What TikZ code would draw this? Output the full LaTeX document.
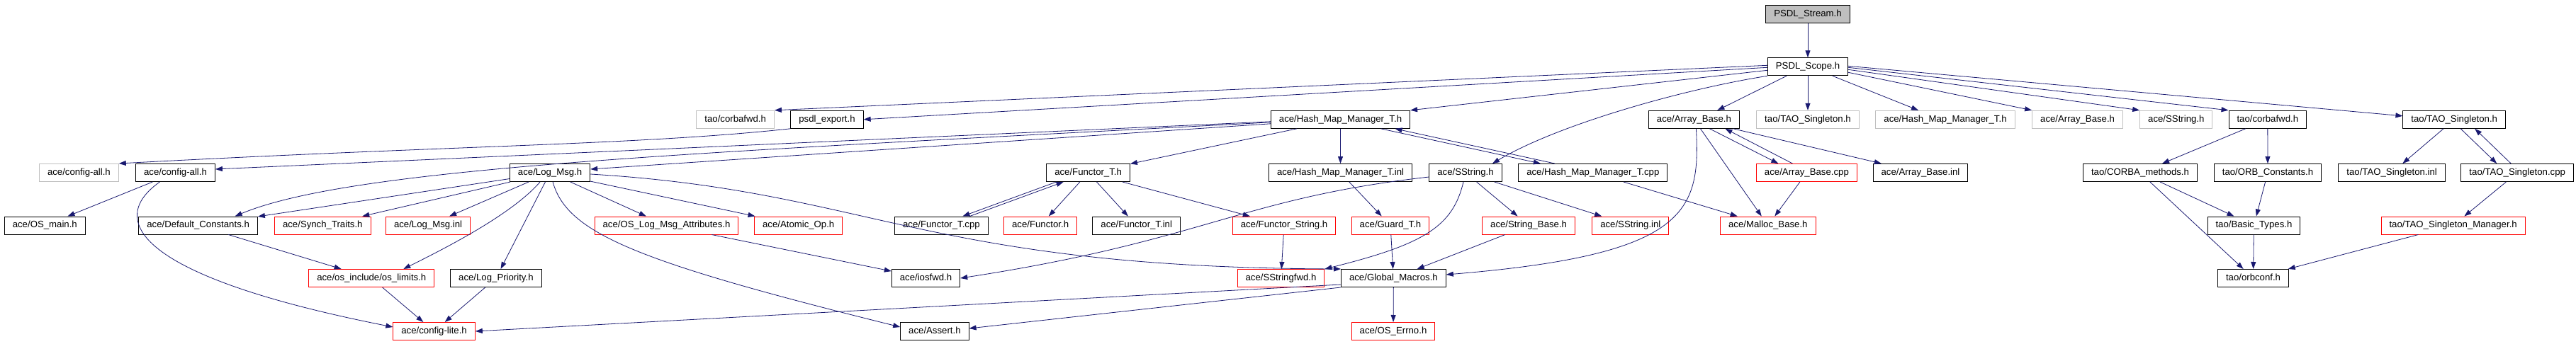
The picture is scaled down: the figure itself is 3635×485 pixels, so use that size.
\documentclass[tikz,border=0pt]{standalone}
\usepackage{fontspec}
\setmainfont{Liberation Sans}
\usetikzlibrary{arrows.meta}
\definecolor{edgeblue}{RGB}{25,25,112}
\definecolor{boxgray}{RGB}{191,191,191}

\begin{document}
\begin{tikzpicture}[x=1pt,y=-1pt,
  hdr/.style={draw=black,line width=1pt,minimum height=25pt,inner xsep=11.5pt,inner ysep=0pt,
    text height=9.5pt,text depth=2.8pt,font=\fontsize{13.2}{15}\selectfont},
  hdrred/.style={hdr,draw=red},
  hdrgray/.style={hdr,draw=boxgray},
  hdrroot/.style={hdr,fill=boxgray},
  dep/.style={draw=edgeblue,line width=0.8pt,-{Triangle[length=10pt,width=7pt]}}]
\useasboundingbox (0,0) rectangle (3635,485);

\node[hdrroot] (stream) at (2551,19.8) {PSDL\_Stream.h};
\node[hdr] (scope) at (2551,94.3) {PSDL\_Scope.h};

\node[hdrgray] (tcfwdg) at (1037.7,168.8) {tao/corbafwd.h};
\node[hdr] (psdlexp) at (1167,168.8) {psdl\_export.h};
\node[hdr] (hmmh) at (1891.5,168.8) {ace/Hash\_Map\_Manager\_T.h};
\node[hdr] (abh) at (2390.4,168.8) {ace/Array\_Base.h};
\node[hdrgray] (tsg) at (2551,168.8) {tao/TAO\_Singleton.h};
\node[hdrgray] (hmmg) at (2745,168.8) {ace/Hash\_Map\_Manager\_T.h};
\node[hdrgray] (abg) at (2931.6,168.8) {ace/Array\_Base.h};
\node[hdrgray] (ssg) at (3070.8,168.8) {ace/SString.h};
\node[hdr] (tcfwd) at (3199.8,168.8) {tao/corbafwd.h};
\node[hdr] (tsh) at (3463.2,168.8) {tao/TAO\_Singleton.h};

\node[hdrgray] (cfgallg) at (111.4,244) {ace/config-all.h};
\node[hdr] (cfgall) at (247.5,244) {ace/config-all.h};
\node[hdr] (logmsg) at (776.1,244) {ace/Log\_Msg.h};
\node[hdr] (functh) at (1535.6,244) {ace/Functor\_T.h};
\node[hdr] (hmminl) at (1891.5,244) {ace/Hash\_Map\_Manager\_T.inl};
\node[hdr] (ssh) at (2068,244) {ace/SString.h};
\node[hdr] (hmmcpp) at (2247.8,244) {ace/Hash\_Map\_Manager\_T.cpp};
\node[hdrred] (abcpp) at (2549.4,244) {ace/Array\_Base.cpp};
\node[hdr] (abinl) at (2710,244) {ace/Array\_Base.inl};
\node[hdr] (corbam) at (3020,244) {tao/CORBA\_methods.h};
\node[hdr] (orbc) at (3200,244) {tao/ORB\_Constants.h};
\node[hdr] (tsinl) at (3375.1,244) {tao/TAO\_Singleton.inl};
\node[hdr] (tscpp) at (3552.2,244) {tao/TAO\_Singleton.cpp};

\node[hdr] (osmain) at (63.3,318.5) {ace/OS\_main.h};
\node[hdr] (defc) at (279.6,318.5) {ace/Default\_Constants.h};
\node[hdrred] (synch) at (455.3,318.5) {ace/Synch\_Traits.h};
\node[hdrred] (logmsginl) at (604.1,318.5) {ace/Log\_Msg.inl};
\node[hdrred] (oslma) at (940.5,318.5) {ace/OS\_Log\_Msg\_Attributes.h};
\node[hdrred] (atomic) at (1126.7,318.5) {ace/Atomic\_Op.h};
\node[hdr] (functcpp) at (1328.4,318.5) {ace/Functor\_T.cpp};
\node[hdrred] (functor) at (1468.1,318.5) {ace/Functor.h};
\node[hdr] (functinl) at (1603.7,318.5) {ace/Functor\_T.inl};
\node[hdrred] (functstr) at (1812,318.5) {ace/Functor\_String.h};
\node[hdrred] (guard) at (1962,318.5) {ace/Guard\_T.h};
\node[hdrred] (strbase) at (2157.1,318.5) {ace/String\_Base.h};
\node[hdrred] (ssinl) at (2300.8,318.5) {ace/SString.inl};
\node[hdrred] (malloc) at (2494.8,318.5) {ace/Malloc\_Base.h};
\node[hdr] (basic) at (3180.4,318.5) {tao/Basic\_Types.h};
\node[hdrred] (tsmgr) at (3461.6,318.5) {tao/TAO\_Singleton\_Manager.h};

\node[hdrred] (oslimits) at (524.3,393) {ace/os\_include/os\_limits.h};
\node[hdr] (logprio) at (699.9,393) {ace/Log\_Priority.h};
\node[hdr] (iosfwd) at (1306.5,393) {ace/iosfwd.h};
\node[hdrred] (ssfwd) at (1807.5,393) {ace/SStringfwd.h};
\node[hdr] (globm) at (1966.4,393) {ace/Global\_Macros.h};
\node[hdr] (orbconf) at (3179.5,393) {tao/orbconf.h};

\node[hdrred] (cfglite) at (612.6,468) {ace/config-lite.h};
\node[hdr] (assert) at (1318.9,468) {ace/Assert.h};
\node[hdrred] (errno) at (1966,468) {ace/OS\_Errno.h};

\draw[dep] (stream) -- (scope);
\draw[dep] ([yshift=2pt]scope.west) -- (tcfwdg.north east);
\draw[dep] ([yshift=-1pt]scope.west) -- (psdlexp.east);
\draw[dep] ([yshift=-5pt]scope.west) -- (hmmh.north east);
\draw[dep] (scope.south west) .. controls (2380,125) and (2200,175) .. ([xshift=38pt]ssh.north);
\draw[dep] ([xshift=-30pt]scope.south) -- ([xshift=33pt]abh.north);
\draw[dep] (scope) -- (tsg);
\draw[dep] ([xshift=35pt]scope.south) -- ([xshift=-38pt]hmmg.north);
\draw[dep] ([yshift=-8pt]scope.east) -- (abg.north west);
\draw[dep] ([yshift=-4pt]scope.east) -- (ssg.north west);
\draw[dep] ([yshift=-1pt]scope.east) -- (tcfwd.north west);
\draw[dep] ([yshift=1pt]scope.east) -- ([yshift=5pt]tsh.west);

\draw[dep] (psdlexp.south west) .. controls (900,205) and (650,205) .. (cfgallg.north east);
\draw[dep] ([yshift=-3pt]hmmh.west) -- ([yshift=5pt]cfgall.east);
\draw[dep] ([yshift=-4pt]hmmh.west) .. controls (1000,215) and (500,235) .. ([xshift=52pt]defc.north);
\draw[dep] ([yshift=-6pt]hmmh.west) -- ([yshift=5pt]logmsg.east);
\draw[dep] (hmmh) -- (functh);
\draw[dep] (hmmh) -- (hmminl);
\draw[dep] ([xshift=57pt]hmmh.south) -- ([xshift=-74pt]hmmcpp.north);
\draw[dep] ([xshift=-54pt]hmmcpp.north) -- ([xshift=77pt]hmmh.south);
\draw[dep] (hmmcpp) -- (malloc);
\draw[dep] (hmminl) -- (guard);
\draw[dep] (guard) -- (globm);

\draw[dep] (cfgall) -- (osmain);
\draw[dep] ([xshift=-22pt]cfgall.south) .. controls (150,310) and (190,390) .. ([yshift=6pt]cfglite.west);
\draw[dep] (defc) -- (oslimits);
\draw[dep] (oslimits) -- (cfglite);
\draw[dep] (logprio) -- (cfglite);

\draw[dep] (logmsg) -- (defc);
\draw[dep] (logmsg) -- (synch);
\draw[dep] (logmsg) -- (logmsginl);
\draw[dep] ([xshift=-14pt]logmsg.south) .. controls (725,300) and (640,345) .. ([xshift=45pt]oslimits.north);
\draw[dep] (logmsg) -- (logprio);
\draw[dep] ([xshift=4pt]logmsg.south) .. controls (800,330) and (900,370) .. ([yshift=6pt]assert.west);
\draw[dep] (logmsg) -- (oslma);
\draw[dep] (logmsg) -- (atomic);
\draw[dep] ([yshift=-2pt]logmsg.east) .. controls (1230,270) and (1300,378) .. (globm.north west);
\draw[dep] (oslma) -- (iosfwd);

\draw[dep] ([xshift=-45pt]functh.south) -- ([xshift=30pt]functcpp.north);
\draw[dep] ([xshift=40pt]functcpp.north) -- ([xshift=-35pt]functh.south);
\draw[dep] (functh) -- (functor);
\draw[dep] (functh) -- (functinl);
\draw[dep] (functh) -- (functstr);
\draw[dep] (functstr) -- (ssfwd);

\draw[dep] ([yshift=-6pt]ssh.west) .. controls (1750,280) and (1700,340) .. (iosfwd.east);
\draw[dep] ([xshift=-3pt]ssh.south) .. controls (2050,320) and (2010,345) .. (ssfwd.north east);
\draw[dep] (ssh) -- (strbase);
\draw[dep] (ssh) -- (ssinl);
\draw[dep] (strbase) -- (globm);

\draw[dep] (globm.south west) -- ([yshift=4pt]assert.east);
\draw[dep] ([yshift=4pt]globm.south west) -- (cfglite.east);
\draw[dep] (globm) -- (errno);

\draw[dep] ([xshift=22pt]abh.south) -- ([xshift=-40pt]abcpp.north);
\draw[dep] ([xshift=-20pt]abcpp.north) -- ([xshift=44pt]abh.south);
\draw[dep] (abh) -- (abinl);
\draw[dep] (abh) -- (malloc);
\draw[dep] ([xshift=3pt]abh.south) .. controls (2400,300) and (2380,360) .. ([yshift=5pt]globm.east);
\draw[dep] (abcpp) -- (malloc);

\draw[dep] (tcfwd) -- (corbam);
\draw[dep] (tcfwd) -- (orbc);
\draw[dep] (corbam) -- (basic);
\draw[dep] (corbam) -- (orbconf);
\draw[dep] (orbc) -- (basic);
\draw[dep] (basic) -- (orbconf);
\draw[dep] (tsh) -- (tsinl);
\draw[dep] ([xshift=9pt]tsh.south) -- ([xshift=-29pt]tscpp.north);
\draw[dep] ([xshift=-9pt]tscpp.north) -- ([xshift=29pt]tsh.south);
\draw[dep] (tscpp) -- (tsmgr);
\draw[dep] (tsmgr) -- (orbconf);
\end{tikzpicture}
\end{document}
